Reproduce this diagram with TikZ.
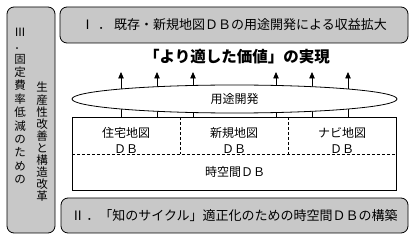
\documentclass[tikz,border=0pt]{standalone}
\usepackage{fontspec}
\usepackage{tikz}
\usepackage{xcolor}
\usetikzlibrary{shapes.geometric,arrows.meta}
\newfontfamily\cjk{Noto Sans CJK JP}
\definecolor{panelgray}{HTML}{C8C8C8}

\begin{document}
\begin{tikzpicture}[x=1pt,y=-1pt,
    panel/.style={draw, rounded corners=7pt, fill=panelgray, line width=0.8pt, inner sep=0pt},
    jp/.style={font=\cjk\fontsize{13}{15}\selectfont},
    cell/.style={font=\cjk\fontsize{12}{16}\selectfont, align=center},
    rise/.style={line width=0.8pt, -{Triangle[width=5.5pt,length=6.5pt]}}]
    \useasboundingbox (0,0) rectangle (415,240);

    % three goal panels
    \node[panel, jp, minimum width=348pt, minimum height=36pt] (goalone) at (234,25)
      {Ⅰ\hspace{4pt}．\hspace{3pt}既存・新規地図ＤＢの用途開発による収益拡大};
    \node[panel, jp, minimum width=347pt, minimum height=35pt] (goaltwo) at (234.5,215.5)
      {Ⅱ\hspace{2pt}．「知のサイクル」適正化のための時空間ＤＢの構築};
    \node[panel, minimum width=48pt, minimum height=226pt] (goalthree) at (31,120) {};
    \node[font=\cjk\fontsize{11.5}{13.4}\selectfont, align=center] (colone) at (20,106)
      {Ⅲ\\．\\固\\定\\費\\率\\低\\減\\の\\た\\め\\の};
    \node[font=\cjk\fontsize{11.5}{12.1}\selectfont, align=center] (coltwo) at (42,142)
      {生\\産\\性\\改\\善\\と\\構\\造\\改\\革};

    % title
    \node[font=\cjk\bfseries\fontsize{15.5}{17}\selectfont] (title) at (237,57)
      {「より適した価値」の実現};

    % database block
    \node[draw, line width=0.8pt, minimum width=324pt, minimum height=73pt] (store) at (234,153.5) {};
    \coordinate (splitw) at (72,154);
    \coordinate (splite) at (396,154);
    \draw[dash pattern=on 3pt off 2pt, line width=0.7pt] (splitw) -- (splite);
    \draw[dash pattern=on 3pt off 2pt, line width=0.7pt] (180,117) -- (180 ,154);
    \draw[dash pattern=on 3pt off 2pt, line width=0.7pt] (288,117) -- (288,154);
    \node[cell] (house) at (126,140) {住宅地図\\ＤＢ};
    \node[cell] (newmap) at (234,140) {新規地図\\ＤＢ};
    \node[cell] (navi) at (342,140) {ナビ地図\\ＤＢ};
    \node[cell] (spacetime) at (235,172) {時空間ＤＢ};

    % arrows up through the ellipse
    \foreach \x in {121,157,193,276,312,348}
      \draw[rise] (\x,72 |- store.north) -- (\x,72);

    \node[ellipse, draw, fill=white, line width=0.8pt, inner sep=0pt,
          minimum width=325pt, minimum height=28pt, cell] (use) at (234.5,99) {用途開発};
\end{tikzpicture}
\end{document}
